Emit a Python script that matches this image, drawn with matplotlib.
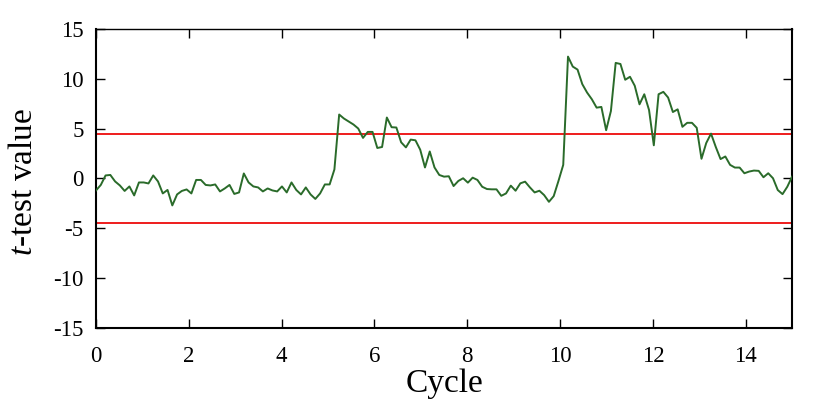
import numpy as np
import matplotlib
matplotlib.use('Agg')
import matplotlib.pyplot as plt

plt.rcParams['font.family'] = 'Liberation Serif'
plt.rcParams['mathtext.fontset'] = 'custom'
plt.rcParams['mathtext.rm'] = 'Liberation Serif'
plt.rcParams['mathtext.it'] = 'Liberation Serif:italic'
plt.rcParams['axes.unicode_minus'] = False

# t-test values, one per trace sample
t_values = [
    -1.2, -0.65, 0.3, 0.35, -0.3, -0.7, -1.25, -0.8, -1.7, -0.4,
    -0.4, -0.5, 0.3, -0.3, -1.5, -1.15, -2.7, -1.6, -1.25, -1.1,
    -1.5,
    -0.15, -0.15, -0.65, -0.7, -0.6, -1.3, -1.0, -0.65, -1.55, -1.4,
    0.5, -0.4, -0.8, -0.9, -1.3, -1.0, -1.2, -1.3, -0.8,
    -1.4, -0.4, -1.15, -1.6, -0.9, -1.6, -2.05, -1.5, -0.6, -0.6, 0.9,
    6.4, 6.0, 5.7, 5.4, 5.0, 4.06, 4.66, 4.66, 3.05, 3.15,
    6.1, 5.13, 5.1, 3.62, 3.11, 3.89, 3.82, 2.88, 1.1, 2.7,
    1.1, 0.35, 0.18, 0.22, -0.76, -0.25, 0.02, -0.42, 0.08, -0.15,
    -0.83, -1.06, -1.09, -1.09, -1.74, -1.5, -0.72, -1.23, -0.49, -0.32,
    -0.89, -1.4, -1.23, -1.67, -2.34, -1.77, -0.25, 1.36,
    12.2, 11.2, 10.9, 9.44, 8.6, 7.93, 7.09, 7.16, 4.83, 6.75,
    11.57, 11.46, 9.88, 10.18, 9.28, 7.42, 8.43, 6.85, 3.32, 8.43,
    8.67, 8.1, 6.65, 6.92, 5.17, 5.57, 5.57, 5.07, 1.97, 3.55,
    4.49, 3.15, 1.94, 2.2, 1.36, 1.09, 1.09, 0.52, 0.69, 0.79,
    0.76, 0.12, 0.52, 0.02, -1.16, -1.57, -0.83, 0.18,
]
cycle = np.linspace(0, 15, len(t_values))

threshold = 4.5
x_ticks = [0, 2, 4, 6, 8, 10, 12, 14]
y_ticks = [-15, -10, -5, 0, 5, 10, 15]

fig = plt.figure(figsize=(8.3, 4.15), dpi=100)
ax = fig.add_axes([0.1157, 0.209, 0.8386, 0.722])

ax.axhline(threshold, color='#ee1c1c', linewidth=1.4, zorder=2)
ax.axhline(-threshold, color='#ee1c1c', linewidth=1.4, zorder=2)
ax.plot(cycle, t_values, color='#2a6b2a', linewidth=1.4, zorder=3)

ax.set_xlim(0, 15)
ax.set_ylim(-15, 15)
ax.set_xticks(x_ticks)
ax.set_yticks(y_ticks)

ax.tick_params(direction='in', top=True, right=True, length=6.5, width=1,
               labelsize=16.5, color='black')
ax.tick_params(axis='x', pad=13)
ax.tick_params(axis='y', pad=9)

for side in ['left', 'bottom', 'right']:
    ax.spines[side].set_linewidth(1.5)
ax.spines['top'].set_linewidth(1.0)

ax.set_xlabel('Cycle', fontsize=24, labelpad=1)
ax.set_ylabel('$t$-test value', fontsize=24, labelpad=10)
ax.yaxis.label.set_y(0.49)

fig.savefig('out.png', dpi=100)
